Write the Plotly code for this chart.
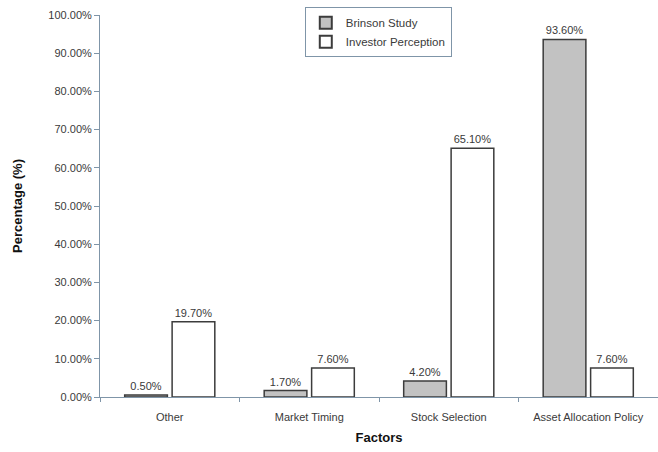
import plotly.graph_objects as go

factors = ["Other", "Market Timing", "Stock Selection", "Asset Allocation Policy"]
brinson_study = [0.50, 1.70, 4.20, 93.60]
investor_perception = [19.70, 7.60, 65.10, 7.60]
y_ticks = [0, 10, 20, 30, 40, 50, 60, 70, 80, 90, 100]

font_family = "Liberation Sans, Arial, sans-serif"
text_color = "#3a3a3a"
axis_color = "#7f95a8"

fig = go.Figure()
fig.add_trace(go.Bar(
    name="Brinson Study", x=factors, y=brinson_study,
    marker=dict(color="#c2c2c2", line=dict(color="#3c3c3c", width=1.5)),
    text=brinson_study, texttemplate="%{y:.2f}%", textposition="outside",
    textfont=dict(size=11, color=text_color), cliponaxis=False,
))
fig.add_trace(go.Bar(
    name="Investor Perception", x=factors, y=investor_perception,
    marker=dict(color="#ffffff", line=dict(color="#3c3c3c", width=1.5)),
    text=investor_perception, texttemplate="%{y:.2f}%", textposition="outside",
    textfont=dict(size=11, color=text_color), cliponaxis=False,
))

fig.update_layout(
    width=658, height=452,
    margin=dict(l=100, r=0, t=15, b=55),
    paper_bgcolor="white", plot_bgcolor="white",
    font=dict(family=font_family, size=11, color=text_color),
    barmode="group", bargap=0.32, bargroupgap=0.1,
    showlegend=True,
    legend=dict(
        x=0.367, y=1.02, xanchor="left", yanchor="top",
        bordercolor=axis_color, borderwidth=1, bgcolor="white",
        font=dict(size=11.5, color=text_color),
        itemsizing="constant", tracegroupgap=2,
    ),
    xaxis=dict(
        title=dict(text="<b>Factors</b>", font=dict(size=13, color="#111"), standoff=10),
        showline=True, linecolor=axis_color, linewidth=1,
        ticks="outside", tickson="boundaries", ticklen=4, tickcolor=axis_color,
        ticklabelstandoff=10,
        showgrid=False, tickfont=dict(size=11, color=text_color),
    ),
    yaxis=dict(
        title=dict(text="<b>Percentage (%)</b>", font=dict(size=13, color="#111"), standoff=22),
        range=[0, 100], tickvals=y_ticks,
        ticktext=[f"{v:.2f}%" for v in y_ticks],
        showline=True, linecolor=axis_color, linewidth=1,
        ticks="outside", ticklen=5, tickcolor=axis_color,
        showgrid=False, zeroline=False, tickfont=dict(size=11, color=text_color),
    ),
)

fig.write_html("out.html")
